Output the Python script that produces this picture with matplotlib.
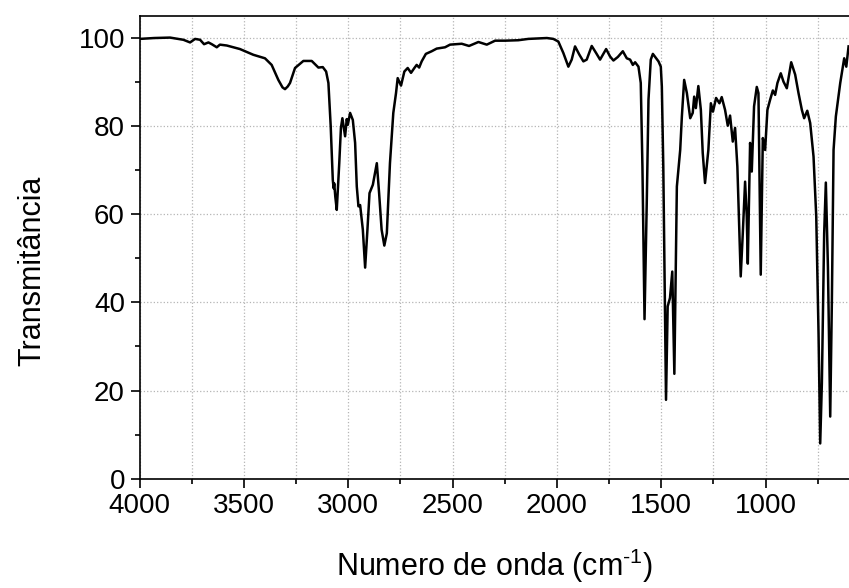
import matplotlib
matplotlib.use("Agg")
import matplotlib.pyplot as plt
from matplotlib.ticker import MultipleLocator

plt.rcParams['font.family'] = ['Liberation Sans', 'DejaVu Sans']
plt.rcParams['mathtext.fontset'] = 'custom'
plt.rcParams['mathtext.rm'] = 'Liberation Sans'

# spectrum (wavenumber, transmittance)
wavenumber = [4000, 3930, 3854, 3790, 3758, 3734, 3710, 3691, 3670, 3654,
              3630, 3615, 3582, 3519, 3455, 3399, 3367, 3335, 3315, 3303,
              3290, 3279, 3255, 3215, 3175, 3143, 3122, 3106, 3095, 3084,
              3074, 3070, 3067, 3062, 3055, 3043, 3035, 3028, 3015, 3007,
              3002, 2991, 2978, 2967, 2959, 2951, 2943, 2930, 2919, 2908,
              2898, 2882, 2863, 2852, 2840, 2827, 2815, 2800, 2784, 2771,
              2763, 2747, 2731, 2715, 2699, 2683, 2672, 2660, 2648, 2628,
              2600, 2576, 2536, 2512, 2456, 2421, 2376, 2336, 2296, 2248,
              2185, 2137, 2048, 2017, 1993, 1969, 1945, 1929, 1913, 1892,
              1873, 1857, 1833, 1812, 1793, 1764, 1745, 1729, 1708, 1684,
              1665, 1649, 1636, 1625, 1609, 1598, 1590, 1580, 1569, 1561,
              1550, 1540, 1529, 1513, 1502, 1497, 1490, 1477, 1469, 1458,
              1447, 1437, 1425, 1409, 1401, 1390, 1377, 1361, 1349, 1342,
              1334, 1322, 1310, 1301, 1290, 1274, 1262, 1252, 1237, 1221,
              1210, 1194, 1181, 1170, 1157, 1146, 1135, 1119, 1109, 1098,
              1090, 1085, 1074, 1066, 1055, 1042, 1034, 1023, 1013, 1002,
              991, 978, 965, 954, 943, 927, 914, 898, 877, 858,
              842, 826, 815, 800, 786, 770, 757, 746, 738, 730,
              719, 711, 701, 690, 682, 674, 663, 642, 623, 613, 602]
transmittance = [99.8, 100.0, 100.1, 99.6, 99.0, 99.8, 99.6, 98.6, 99.0, 98.6,
                 97.9, 98.5, 98.3, 97.5, 96.2, 95.4, 93.9, 90.5, 88.8, 88.4,
                 89.0, 89.8, 93.2, 94.8, 94.8, 93.3, 93.4, 92.4, 89.8, 80.0,
                 67.8, 65.9, 67.0, 64.0, 61.0, 71.6, 79.6, 81.8, 77.7, 81.6,
                 80.3, 83.0, 81.4, 76.2, 66.3, 61.8, 62.1, 56.5, 47.9, 56.5,
                 64.8, 66.7, 71.6, 64.8, 56.5, 52.9, 55.7, 71.6, 83.0, 87.5,
                 90.9, 89.2, 92.4, 93.2, 92.1, 93.2, 93.9, 93.3, 94.7, 96.4,
                 97.0, 97.6, 97.9, 98.5, 98.7, 98.2, 99.1, 98.5, 99.4, 99.4,
                 99.5, 99.8, 100.0, 99.8, 99.2, 96.6, 93.5, 95.1, 98.1, 96.2,
                 94.7, 95.1, 98.2, 96.6, 95.1, 97.5, 95.8, 94.9, 95.7, 97.0,
                 95.4, 95.1, 93.9, 94.5, 93.5, 89.8, 70.8, 36.2, 63.3, 86.0,
                 95.1, 96.4, 95.7, 94.7, 93.5, 89.0, 70.8, 17.9, 39.1, 41.0,
                 47.0, 23.8, 66.3, 74.6, 82.2, 90.5, 87.5, 81.8, 83.0, 86.7,
                 84.1, 89.1, 83.7, 73.9, 67.1, 74.6, 85.2, 83.3, 86.4, 85.2,
                 86.6, 83.7, 80.1, 82.4, 76.5, 79.6, 70.8, 45.9, 55.7, 67.4,
                 59.5, 48.8, 76.2, 69.7, 84.5, 88.9, 87.5, 46.3, 77.3, 74.6,
                 83.7, 86.0, 88.1, 87.1, 89.8, 92.0, 90.1, 88.6, 94.5, 91.7,
                 87.5, 83.7, 81.8, 83.5, 80.7, 73.1, 59.5, 33.0, 8.0, 21.7,
                 55.7, 67.2, 48.1, 14.1, 40.6, 74.6, 82.2, 89.8, 95.4, 93.5, 98.1]

fig = plt.figure(figsize=(8.49, 5.88), dpi=100)
ax = fig.add_axes([0.1644, 0.1859, 0.8356, 0.7869])

ax.plot(wavenumber, transmittance, color='black', linewidth=1.8)

ax.set_xlim(4000, 600)
ax.set_ylim(0, 105)
ax.xaxis.set_major_locator(MultipleLocator(500))
ax.xaxis.set_minor_locator(MultipleLocator(250))
ax.yaxis.set_major_locator(MultipleLocator(20))
ax.yaxis.set_minor_locator(MultipleLocator(10))

ax.grid(True, which='major', axis='y', linestyle=':', color='#b5b5b5', linewidth=0.9)
ax.grid(True, which='both', axis='x', linestyle=':', color='#b5b5b5', linewidth=0.9)

ax.tick_params(which='major', direction='out', length=6.5, width=1.2, labelsize=20, pad=4)
ax.tick_params(which='minor', direction='out', length=3.5, width=1.2)
ax.tick_params(top=False, right=False)
for s in ax.spines.values():
    s.set_linewidth(1.2)
ax.spines['right'].set_visible(False)

ax.set_xlabel(r'Numero de onda (cm$^{\text{-1}}$)', fontsize=22, labelpad=20)
ax.set_ylabel('Transmitância', fontsize=22)
ax.yaxis.set_label_coords(-0.13, 0.449)

fig.savefig('out.png', dpi=100)
